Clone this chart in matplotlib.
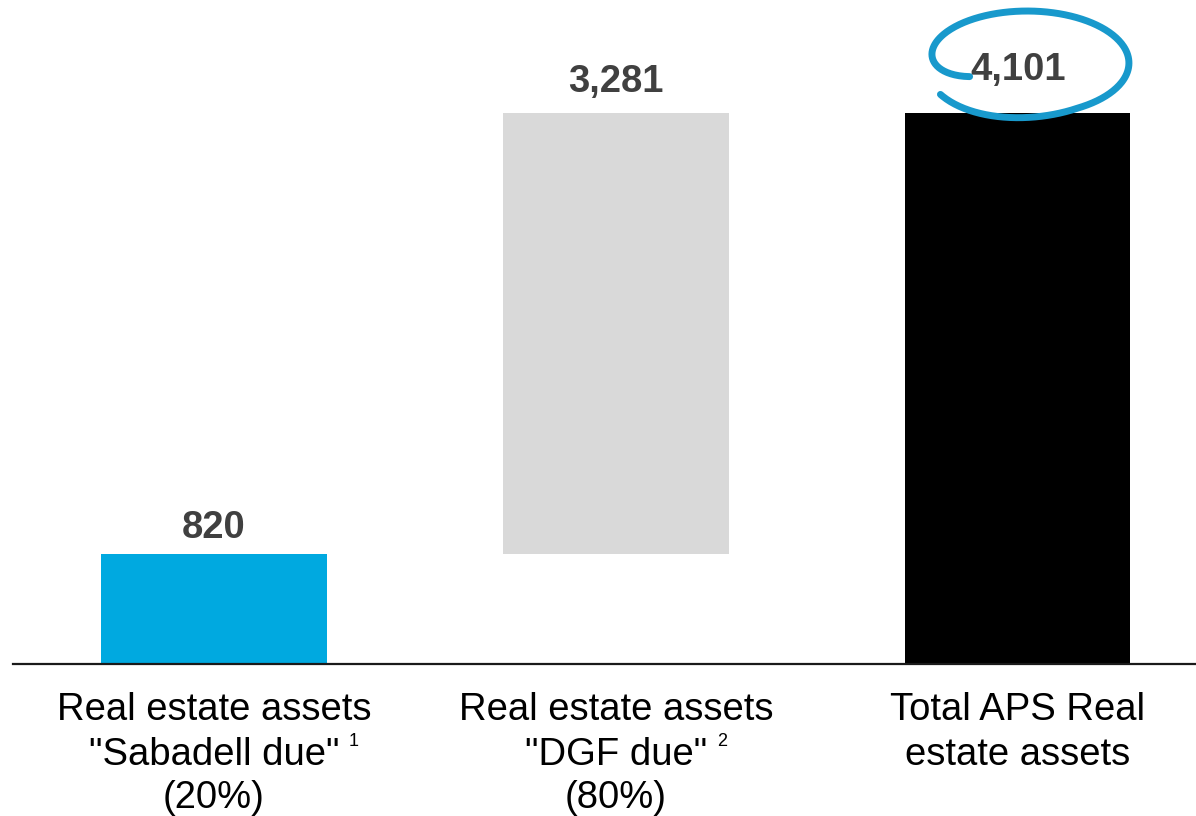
import numpy as np
import matplotlib
matplotlib.use('Agg')
import matplotlib.pyplot as plt
import matplotlib.transforms as mtransforms

plt.rcParams['font.family'] = ['Liberation Sans', 'DejaVu Sans']

# Data
label_lines = [
    ['Real estate assets', '"Sabadell due"', '(20%)'],
    ['Real estate assets', '"DGF due"', '(80%)'],
    ['Total APS Real', 'estate assets'],
]
footnotes = ['1', '2', '']
values = [820, 3281, 4101]
bottoms = [0, 820, 0]

colors = ['#00A9E0', '#D9D9D9', '#000000']
label_gap_px = [16, 21, 33]      # gap between bar top and value baseline
text_color = '#404040'

fig = plt.figure(figsize=(11.96, 8.16), dpi=100)
ax = fig.add_axes([13 / 1196, 152 / 816, 1183 / 1196, 664 / 816])

x = np.arange(len(values))
ax.bar(x, values, bottom=bottoms, width=0.56, color=colors, zorder=2)

ax.set_xlim(-0.5, 2.443)
ax.set_ylim(0, 4942)
for s in ['top', 'right', 'left']:
    ax.spines[s].set_visible(False)
ax.spines['bottom'].set_linewidth(1.6)
ax.spines['bottom'].set_color('#1a1a1a')
ax.set_xticks([])
ax.set_yticks([])

# value labels
for i, (v, b) in enumerate(zip(values, bottoms)):
    ax.annotate(f'{v:,}', xy=(i, v + b), xytext=(0, label_gap_px[i] * 0.72),
                textcoords='offset points', ha='center', va='baseline',
                fontsize=27.5, fontweight='bold', color=text_color)

# category labels, one line at a time
baselines_px = [56, 101, 144]
second_lines = []
for i, lines in enumerate(label_lines):
    for j, line in enumerate(lines):
        t = ax.annotate(line, xy=(i, 0), xycoords=('data', 'axes fraction'),
                        xytext=(0, -baselines_px[j] * 0.72), textcoords='offset points',
                        ha='center', va='baseline', fontsize=27.5, color='black')
        if j == 1:
            second_lines.append(t)

# footnote markers after the second line
fig.canvas.draw()
renderer = fig.canvas.get_renderer()
for i, fn in enumerate(footnotes):
    if not fn:
        continue
    bb = second_lines[i].get_window_extent(renderer)
    xd = ax.transData.inverted().transform((bb.x1, bb.y0))[0]
    ax.annotate(fn, xy=(xd, 0), xycoords=('data', 'axes fraction'),
                xytext=(7, -baselines_px[1] * 0.72 + 14), textcoords='offset points',
                ha='left', va='baseline', fontsize=13, color='black')

# hand-drawn circle around the total
trans = fig.dpi_scale_trans + mtransforms.ScaledTranslation(2, values[2], ax.transData)
th = np.radians(np.linspace(205, -148, 300))
grow = 1 - 0.38 * np.exp(-(np.radians(205) - th) / np.radians(18))
cx, cy, rx, ry = 9, 50, 102, 52
ex = cx + rx * grow * np.cos(th)
ey = cy + ry * grow * np.sin(th) * (1 + 0.14 * np.clip((np.radians(-60) - th) / np.radians(88), 0, 1))
ax.plot(ex / 100, ey / 100, transform=trans, color='#1899CC', lw=5,
        solid_capstyle='round', clip_on=False, zorder=3)

fig.savefig('out.png', dpi=100)
